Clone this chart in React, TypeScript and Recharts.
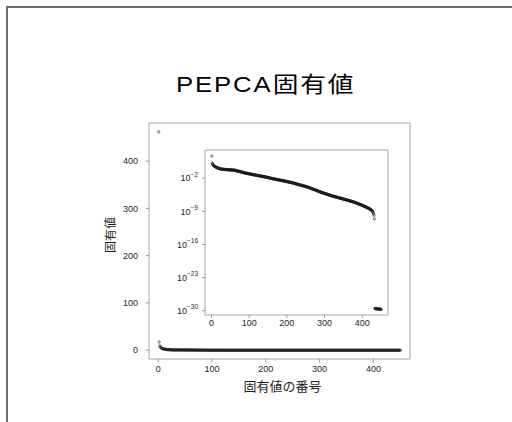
import React from "react";
import { ReferenceArea, Scatter, ScatterChart, XAxis, YAxis } from "recharts";

const TITLE_LATIN = "PEPCA";
const TITLE_CJK = "固有値";
const X_LABEL = "固有値の番号";
const Y_LABEL = "固有値";

// eigenvalues in descending order, index 1..60
const leadingEigenvalues = [
  462, 17.5, 9.6, 7.2, 5.7, 4.6, 4.0, 3.5, 3.1, 2.8,
  2.5, 2.25, 2.0, 1.85, 1.7, 1.55, 1.45, 1.35, 1.25, 1.15,
  1.08, 1.02, 0.97, 0.93, 0.89, 0.86, 0.83, 0.8, 0.78, 0.76,
  0.745, 0.73, 0.72, 0.71, 0.7, 0.69, 0.68, 0.67, 0.665, 0.66,
  0.65, 0.645, 0.64, 0.63, 0.62, 0.61, 0.6, 0.595, 0.59, 0.58,
  0.57, 0.565, 0.56, 0.55, 0.54, 0.53, 0.52, 0.515, 0.51, 0.5,
];

// index 61..300
const middleEigenvalues = [
  0.49, 0.48, 0.46, 0.43, 0.41, 0.39, 0.37, 0.355, 0.34, 0.32,
  0.31, 0.295, 0.28, 0.266, 0.254, 0.24, 0.23, 0.22, 0.21, 0.2,
  0.19, 0.182, 0.174, 0.166, 0.158, 0.148, 0.14, 0.132, 0.127, 0.123,
  0.117, 0.114, 0.11, 0.106, 0.102, 0.098, 0.094, 0.091, 0.088, 0.085,
  0.081, 0.079, 0.076, 0.073, 0.071, 0.068, 0.066, 0.063, 0.061, 0.059,
  0.056, 0.054, 0.052, 0.05, 0.048, 0.047, 0.045, 0.044, 0.042, 0.041,
  0.039, 0.038, 0.037, 0.035, 0.0345, 0.0335, 0.032, 0.031, 0.03, 0.029,
  0.028, 0.027, 0.026, 0.0255, 0.0245, 0.024, 0.023, 0.022, 0.0215, 0.0205,
  0.02, 0.019, 0.018, 0.0175, 0.017, 0.016, 0.0155, 0.015, 0.014, 0.0135,
  0.013, 0.0125, 0.012, 0.0115, 0.011, 0.0105, 0.01, 9.7e-3, 9.2e-3, 8.8e-3,
  8.5e-3, 8.1e-3, 7.8e-3, 7.4e-3, 7.2e-3, 6.8e-3, 6.6e-3, 6.3e-3, 6.1e-3, 5.9e-3,
  5.7e-3, 5.5e-3, 5.2e-3, 5.1e-3, 4.9e-3, 4.7e-3, 4.6e-3, 4.4e-3, 4.3e-3, 4.1e-3,
  4.0e-3, 3.85e-3, 3.7e-3, 3.6e-3, 3.45e-3, 3.35e-3, 3.2e-3, 3.1e-3, 3.0e-3, 2.9e-3,
  2.8e-3, 2.7e-3, 2.6e-3, 2.5e-3, 2.4e-3, 2.3e-3, 2.2e-3, 2.15e-3, 2.05e-3, 1.95e-3,
  1.9e-3, 1.8e-3, 1.75e-3, 1.65e-3, 1.6e-3, 1.55e-3, 1.45e-3, 1.4e-3, 1.35e-3, 1.3e-3,
  1.25e-3, 1.2e-3, 1.15e-3, 1.1e-3, 1.05e-3, 1.0e-3, 9.5e-4, 9.0e-4, 8.5e-4, 8.1e-4,
  7.8e-4, 7.3e-4, 6.9e-4, 6.6e-4, 6.3e-4, 6.0e-4, 5.6e-4, 5.4e-4, 5.1e-4, 4.8e-4,
  4.6e-4, 4.4e-4, 4.2e-4, 3.9e-4, 3.7e-4, 3.5e-4, 3.4e-4, 3.2e-4, 3.0e-4, 2.9e-4,
  2.75e-4, 2.6e-4, 2.45e-4, 2.35e-4, 2.25e-4, 2.1e-4, 2.0e-4, 1.9e-4, 1.8e-4, 1.7e-4,
  1.6e-4, 1.55e-4, 1.5e-4, 1.4e-4, 1.3e-4, 1.25e-4, 1.2e-4, 1.1e-4, 1.0e-4, 9.5e-5,
  8.9e-5, 8.3e-5, 7.7e-5, 7.2e-5, 6.7e-5, 6.2e-5, 5.8e-5, 5.4e-5, 5.1e-5, 4.7e-5,
  4.4e-5, 4.1e-5, 3.8e-5, 3.5e-5, 3.3e-5, 3.1e-5, 2.9e-5, 2.7e-5, 2.5e-5, 2.3e-5,
  2.2e-5, 2.0e-5, 1.9e-5, 1.75e-5, 1.65e-5, 1.5e-5, 1.4e-5, 1.3e-5, 1.2e-5, 1.15e-5,
  1.07e-5, 1.0e-5, 9.4e-6, 8.8e-6, 8.3e-6, 7.8e-6, 7.3e-6, 6.9e-6, 6.5e-6, 6.1e-6,
];

// index 301..432, down to the last non-zero eigenvalue
const trailingEigenvalues = [
  5.75e-6, 5.4e-6, 5.1e-6, 4.8e-6, 4.5e-6, 4.2e-6, 4.0e-6, 3.7e-6, 3.5e-6, 3.3e-6,
  3.1e-6, 2.9e-6, 2.75e-6, 2.6e-6, 2.4e-6, 2.25e-6, 2.15e-6, 2.0e-6, 1.9e-6, 1.8e-6,
  1.7e-6, 1.6e-6, 1.55e-6, 1.5e-6, 1.4e-6, 1.35e-6, 1.25e-6, 1.2e-6, 1.15e-6, 1.1e-6,
  1.03e-6, 9.8e-7, 9.3e-7, 8.9e-7, 8.4e-7, 8.0e-7, 7.6e-7, 7.2e-7, 6.9e-7, 6.5e-7,
  6.2e-7, 5.9e-7, 5.6e-7, 5.4e-7, 5.1e-7, 4.8e-7, 4.6e-7, 4.4e-7, 4.2e-7, 3.9e-7,
  3.75e-7, 3.55e-7, 3.4e-7, 3.2e-7, 3.0e-7, 2.85e-7, 2.7e-7, 2.6e-7, 2.45e-7, 2.3e-7,
  2.2e-7, 2.1e-7, 2.0e-7, 1.85e-7, 1.8e-7, 1.7e-7, 1.6e-7, 1.5e-7, 1.45e-7, 1.35e-7,
  1.3e-7, 1.25e-7, 1.15e-7, 1.1e-7, 1.05e-7, 9.9e-8, 9.3e-8, 8.9e-8, 8.4e-8, 7.9e-8,
  7.4e-8, 6.8e-8, 6.4e-8, 5.9e-8, 5.5e-8, 5.1e-8, 4.7e-8, 4.4e-8, 4.1e-8, 3.8e-8,
  3.55e-8, 3.3e-8, 3.05e-8, 2.85e-8, 2.6e-8, 2.45e-8, 2.25e-8, 2.1e-8, 1.95e-8, 1.8e-8,
  1.7e-8, 1.6e-8, 1.45e-8, 1.3e-8, 1.2e-8, 1.1e-8, 1.0e-8, 9.3e-9, 8.5e-9, 7.8e-9,
  7.1e-9, 6.5e-9, 6.0e-9, 5.4e-9, 5.0e-9, 4.5e-9, 4.2e-9, 3.8e-9, 3.5e-9, 3.2e-9,
  2.75e-9, 2.4e-9, 2.1e-9, 1.8e-9, 1.6e-9, 1.25e-9, 1.0e-9, 7.1e-10, 5.0e-10, 2.8e-10,
  1.4e-10, 2.5e-11,
];

// numerically zero eigenvalues, index 433..450
const nullEigenvalues = [
  3.1e-30, 2.9e-30, 2.8e-30, 2.7e-30, 2.6e-30, 2.6e-30, 2.5e-30, 2.5e-30, 2.4e-30,
  2.4e-30, 2.3e-30, 2.3e-30, 2.2e-30, 2.2e-30, 2.1e-30, 2.1e-30, 2.0e-30, 1.9e-30,
];

const mainXTicks = [0, 100, 200, 300, 400];
const mainYTicks = [0, 100, 200, 300, 400];
const insetXTicks = [0, 100, 200, 300, 400];
const insetYTicks = [1e-30, 1e-23, 1e-16, 1e-9, 1e-2];

const points = [
  ...leadingEigenvalues,
  ...middleEigenvalues,
  ...trailingEigenvalues,
  ...nullEigenvalues,
].map((value, i) => ({ index: i + 1, value }));

// R-style 4% padding around the data range
const X_DOMAIN: [number, number] = [-17, 468];
const MAIN_Y_DOMAIN: [number, number] = [-18.5, 480.5];
const INSET_Y_DOMAIN: [number, number] = [1.26e-31, 9.1e3];

const LATIN = '"Liberation Sans", Arial, sans-serif';
const CJK = '"Noto Sans CJK JP", sans-serif';
const FRAME = "#a6a6a6";
const TICK = "#9a9a9a";
const TEXT = "#1e1e1e";

const OpenCircle = (props: any) => {
  const { cx, cy } = props;
  if (cx == null || cy == null) return null;
  return (
    <circle cx={cx} cy={cy} r={1.15} fill="none" stroke="#1c1c1c" strokeWidth={0.6} />
  );
};

const PowerTick = ({ x, y, payload }: any) => {
  const exp = Math.round(Math.log10(payload.value));
  return (
    <text x={x} y={y} dy={3.2} textAnchor="end" fontSize={9} fill={TEXT} fontFamily={LATIN}>
      10
      <tspan dy={-4.5} fontSize={6.5}>
        {exp < 0 ? `\u2212${-exp}` : `${exp}`}
      </tspan>
    </text>
  );
};

const tickStyle = { fontSize: 9, fill: TEXT, fontFamily: LATIN };

const layer: React.CSSProperties = { position: "absolute", left: 0, top: 0 };

export default function App() {
  return (
    <div
      style={{
        position: "fixed",
        left: 0,
        top: 0,
        width: 512,
        height: 422,
        overflow: "hidden",
        background: "#fff",
      }}
    >
      {/* slide frame */}
      <div
        style={{
          position: "absolute",
          left: 6,
          top: 6,
          width: 540,
          height: 440,
          borderTop: "2px solid #6e6e6e",
          borderLeft: "2px solid #6e6e6e",
        }}
      />

      <div
        style={{
          position: "absolute",
          left: 176,
          top: 71,
          fontSize: 22,
          lineHeight: "22px",
          whiteSpace: "nowrap",
          color: "#000",
          transform: "scaleX(1.17)",
          transformOrigin: "left center",
        }}
      >
        <span style={{ fontFamily: LATIN, letterSpacing: 1.6 }}>{TITLE_LATIN}</span>
        <span style={{ fontFamily: CJK, letterSpacing: 1.6 }}>{TITLE_CJK}</span>
      </div>

      {/* eigenvalues on a linear scale */}
      <div style={layer}>
        <ScatterChart
          width={512}
          height={422}
          margin={{ top: 123, right: 102, bottom: 33, left: 109 }}
        >
          <XAxis
            type="number"
            dataKey="index"
            domain={X_DOMAIN}
            ticks={mainXTicks}
            interval={0}
            allowDataOverflow
            axisLine={false}
            tickLine={{ stroke: TICK }}
            tickSize={3.5}
            tickMargin={3}
            height={30}
            tick={tickStyle}
          />
          <YAxis
            type="number"
            dataKey="value"
            domain={MAIN_Y_DOMAIN}
            ticks={mainYTicks}
            interval={0}
            allowDataOverflow
            axisLine={false}
            tickLine={{ stroke: TICK }}
            tickSize={3.5}
            tickMargin={7.5}
            width={40}
            tick={tickStyle}
          />
          <ReferenceArea
            x1={X_DOMAIN[0]}
            x2={X_DOMAIN[1]}
            y1={MAIN_Y_DOMAIN[0]}
            y2={MAIN_Y_DOMAIN[1]}
            fill="none"
            stroke={FRAME}
            ifOverflow="visible"
          />
          <Scatter data={points} shape={OpenCircle} isAnimationActive={false} />
        </ScatterChart>
      </div>

      {/* inset: the same eigenvalues on a log scale */}
      <div style={layer}>
        <ScatterChart
          width={512}
          height={422}
          margin={{ top: 150, right: 124, bottom: 87, left: 165 }}
        >
          <XAxis
            type="number"
            dataKey="index"
            domain={X_DOMAIN}
            ticks={insetXTicks}
            interval={0}
            allowDataOverflow
            axisLine={false}
            tickLine={{ stroke: TICK }}
            tickSize={3}
            tickMargin={1.5}
            height={20}
            tick={tickStyle}
          />
          <YAxis
            type="number"
            dataKey="value"
            scale="log"
            domain={INSET_Y_DOMAIN}
            ticks={insetYTicks}
            interval={0}
            allowDataOverflow
            axisLine={false}
            tickLine={{ stroke: TICK }}
            tickSize={3}
            tickMargin={4}
            width={40}
            tick={<PowerTick />}
          />
          <ReferenceArea
            x1={X_DOMAIN[0]}
            x2={X_DOMAIN[1]}
            y1={INSET_Y_DOMAIN[0]}
            y2={INSET_Y_DOMAIN[1]}
            fill="none"
            stroke={FRAME}
            ifOverflow="visible"
          />
          <Scatter data={points} shape={OpenCircle} isAnimationActive={false} />
        </ScatterChart>
      </div>

      <div
        style={{
          position: "absolute",
          left: 110,
          top: 234.5,
          transform: "translate(-50%, -50%) rotate(-90deg)",
          fontFamily: CJK,
          fontSize: 12,
          lineHeight: 1,
          whiteSpace: "nowrap",
          color: TEXT,
        }}
      >
        {Y_LABEL}
      </div>
      <div
        style={{
          position: "absolute",
          left: 282.5,
          top: 384.5,
          transform: "translate(-50%, -50%)",
          fontFamily: CJK,
          fontSize: 13,
          lineHeight: 1,
          whiteSpace: "nowrap",
          color: TEXT,
        }}
      >
        {X_LABEL}
      </div>
    </div>
  );
}
